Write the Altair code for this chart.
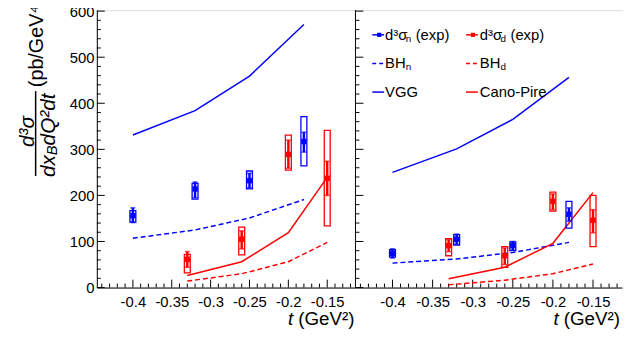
import altair as alt
import pandas as pd

# ---------------- data ----------------
t_n = [-0.40, -0.32, -0.25, -0.18]
t_d = [-0.33, -0.26, -0.20, -0.15]

# left panel
L_n_val = [156, 214, 232, 317]
L_n_slo = [141, 195, 216, 294]
L_n_shi = [173, 229, 248, 337]
L_n_ylo = [142, 192, 214, 264]
L_n_yhi = [167, 226, 253, 371]
L_d_val = [61, 105, 289, 237]
L_d_slo = [44, 84, 259, 200]
L_d_shi = [78, 123, 320, 274]
L_d_ylo = [32, 71, 255, 134]
L_d_yhi = [72, 131, 331, 341]
L_vgg = [331, 384, 459, 571]
L_bhn = [107, 125, 151, 191]
L_cano = [26, 56, 119, 239]
L_bhd = [14, 30, 56, 98]

# right panel
R_n_val = [74, 105, 91, 159]
R_n_slo = [64, 94, 81, 144]
R_n_shi = [84, 116, 100, 173]
R_n_ylo = [66, 92, 80, 129]
R_n_yhi = [82, 115, 99, 187]
R_d_val = [91, 69, 187, 146]
R_d_slo = [78, 50, 169, 119]
R_d_shi = [104, 86, 203, 169]
R_d_ylo = [69, 44, 166, 89]
R_d_yhi = [106, 89, 207, 200]
R_vgg = [250, 301, 365, 456]
R_bhn = [53, 62, 76, 98]
R_cano = [19, 44, 96, 206]
R_bhd = [6, 16, 30, 51]

x_major = [-0.4, -0.35, -0.3, -0.25, -0.2, -0.15]
x_minor = [round(-0.44 + 0.01 * i, 2) for i in range(33)]
x_minor = [v for v in x_minor if all(abs(v - m) > 1e-6 for m in x_major)]
y_major = [0, 100, 200, 300, 400, 500, 600]
y_minor = [v for v in range(0, 601, 20) if v % 100]

BLUE = "#0000ff"
RED = "#ff0000"
FONT = "Liberation Sans, Arial, sans-serif"

y_axis = alt.Axis(values=y_major, ticks=False, domain=True, domainColor="black",
                  domainWidth=1, labelFont=FONT, labelFontSize=15, labelColor="black",
                  labelPadding=3, grid=False, title=None)
y_scale = alt.Scale(domain=[0, 602.1], nice=False, zero=False)


def Yf(field):
    return alt.Y(f"{field}:Q", scale=y_scale, axis=y_axis)


def panel(rng, n_val, n_slo, n_shi, n_ylo, n_yhi, d_val, d_slo, d_shi, d_ylo, d_yhi,
          vgg, bhn, cano, bhd):
    x_axis = alt.Axis(orient="bottom", values=x_major, labelExpr="toString(datum.value)",
                      ticks=False, domain=True, domainColor="black", domainWidth=1,
                      labelFont=FONT, labelFontSize=15, labelColor="black", labelPadding=7,
                      labelFlush=False, labelOverlap=False, grid=False, title=None)
    x_scale = alt.Scale(domain=[-0.44, -0.12], range=rng, nice=False, zero=False)

    def X():
        return alt.X("t:Q", scale=x_scale, axis=x_axis)

    dn = pd.DataFrame({"t": t_n, "v": n_val, "slo": n_slo, "shi": n_shi,
                       "ylo": n_ylo, "yhi": n_yhi, "vgg": vgg, "bh": bhn})
    dd = pd.DataFrame({"t": t_d, "v": d_val, "slo": d_slo, "shi": d_shi,
                       "ylo": d_ylo, "yhi": d_yhi, "cano": cano, "bh": bhd})
    layers = []
    # ticks on the x axis (inward)
    layers.append(alt.Chart(pd.DataFrame({"t": x_major})).mark_rule(color="black", strokeWidth=1)
                  .encode(x=X(), y=alt.value(281), y2=alt.value(273)))
    layers.append(alt.Chart(pd.DataFrame({"t": x_minor})).mark_rule(color="black", strokeWidth=1)
                  .encode(x=X(), y=alt.value(281), y2=alt.value(277)))
    # theory curves
    layers.append(alt.Chart(dn).mark_line(color=BLUE, strokeWidth=1.5).encode(x=X(), y=Yf("vgg")))
    layers.append(alt.Chart(dn).mark_line(color=BLUE, strokeWidth=1.5, strokeDash=[5, 3])
                  .encode(x=X(), y=Yf("bh")))
    layers.append(alt.Chart(dd).mark_line(color=RED, strokeWidth=1.5).encode(x=X(), y=Yf("cano")))
    layers.append(alt.Chart(dd).mark_line(color=RED, strokeWidth=1.5, strokeDash=[5, 3])
                  .encode(x=X(), y=Yf("bh")))
    for df, col in ((dn, BLUE), (dd, RED)):
        # systematic boxes
        layers.append(alt.Chart(df).mark_bar(width=6, fillOpacity=0, stroke=col, strokeWidth=1.3)
                      .encode(x=X(), y=Yf("ylo"), y2="yhi:Q"))
        # statistical error bars
        layers.append(alt.Chart(df).mark_rule(color=col, strokeWidth=2.5)
                      .encode(x=X(), y=Yf("slo"), y2="shi:Q"))
        layers.append(alt.Chart(df).mark_tick(color=col, orient="horizontal", size=5, thickness=1.5)
                      .encode(x=X(), y=Yf("slo")))
        layers.append(alt.Chart(df).mark_tick(color=col, orient="horizontal", size=5, thickness=1.5)
                      .encode(x=X(), y=Yf("shi")))
        layers.append(alt.Chart(df).mark_square(color=col, size=30, opacity=1)
                      .encode(x=X(), y=Yf("v")))
    return alt.layer(*layers)


left = panel([0, 262], L_n_val, L_n_slo, L_n_shi, L_n_ylo, L_n_yhi,
             L_d_val, L_d_slo, L_d_shi, L_d_ylo, L_d_yhi, L_vgg, L_bhn, L_cano, L_bhd)
right = panel([262, 532], R_n_val, R_n_slo, R_n_shi, R_n_ylo, R_n_yhi,
              R_d_val, R_d_slo, R_d_shi, R_d_ylo, R_d_yhi, R_vgg, R_bhn, R_cano, R_bhd)

base = alt.Chart(pd.DataFrame({"_": [0]}))


def txt(s, x, y, size, color="black", italic=False, angle=0, align="left", baseline="middle"):
    kw = dict(text=s, fontSize=size, font=FONT, color=color, align=align,
              baseline=baseline, angle=angle)
    if italic:
        kw["fontStyle"] = "italic"
    return base.mark_text(**kw).encode(x=alt.value(x), y=alt.value(y))


def hline(x1, x2, y, color, dash=None):
    kw = dict(color=color, strokeWidth=1.5)
    if dash:
        kw["strokeDash"] = dash
    return base.mark_rule(**kw).encode(x=alt.value(x1), x2=alt.value(x2), y=alt.value(y))


extras = []
# y ticks (inward) on both panels
for x0 in (0, 262):
    extras.append(alt.Chart(pd.DataFrame({"v": y_major})).mark_rule(color="black", strokeWidth=1)
                  .encode(y=Yf("v"), x=alt.value(x0), x2=alt.value(x0 + 8)))
    extras.append(alt.Chart(pd.DataFrame({"v": y_minor})).mark_rule(color="black", strokeWidth=1)
                  .encode(y=Yf("v"), x=alt.value(x0), x2=alt.value(x0 + 4)))
# separator between panels
extras.append(base.mark_rule(color="black", strokeWidth=1)
              .encode(x=alt.value(262), y=alt.value(0), y2=alt.value(281)))

# y title (fraction)
extras.append(txt("d³σ", -70, 123, 21, italic=True, angle=270, align="center"))
extras.append(base.mark_rule(color="black", strokeWidth=1.5)
              .encode(x=alt.value(-62), y=alt.value(82), y2=alt.value(168)))
extras.append(txt("dx", -48, 169, 21, italic=True, angle=270))
extras.append(txt("B", -45, 147, 15, italic=True, angle=270))
extras.append(txt("dQ²dt", -48, 137, 21, italic=True, angle=270))
extras.append(txt("(pb/GeV⁴)", -61, 78, 20, angle=270))

# x titles
for xr in (261, 530):
    extras.append(txt("(GeV²)", xr, 313, 19, align="right"))
    extras.append(txt("t", xr - 62, 313, 19, italic=True, align="right"))

# legend
rows = [25, 54, 83]
c1s, c1e, c1t = 279, 291, 292
c2s, c2e, c2t = 374, 386, 388
# row 1
extras.append(hline(c1s, c1e, rows[0], BLUE))
extras.append(base.mark_square(color=BLUE, size=18, opacity=1).encode(x=alt.value(286), y=alt.value(rows[0])))
extras.append(txt("d³σ", c1t, rows[0], 15))
extras.append(txt("n", c1t + 21, rows[0] + 4, 10))
extras.append(txt("(exp)", 323, rows[0], 15))
extras.append(hline(c2s, c2e, rows[0], RED))
extras.append(base.mark_square(color=RED, size=18, opacity=1).encode(x=alt.value(381), y=alt.value(rows[0])))
extras.append(txt("d³σ", c2t, rows[0], 15))
extras.append(txt("d", c2t + 21, rows[0] + 4, 10))
extras.append(txt("(exp)", 419, rows[0], 15))
# row 2
extras.append(hline(c1s, c1e, rows[1], BLUE, [4, 3]))
extras.append(txt("BH", c1t, rows[1], 15))
extras.append(txt("n", c1t + 21, rows[1] + 4, 10))
extras.append(hline(c2s, c2e, rows[1], RED, [4, 3]))
extras.append(txt("BH", c2t, rows[1], 15))
extras.append(txt("d", c2t + 21, rows[1] + 4, 10))
# row 3
extras.append(hline(c1s, c1e, rows[2], BLUE))
extras.append(txt("VGG", c1t, rows[2], 15))
extras.append(hline(c2s, c2e, rows[2], RED))
extras.append(txt("Cano-Pire", c2t, rows[2], 15))

chart = (
    alt.layer(left, right, *extras)
    .resolve_scale(x="independent")
    .properties(width=533, height=281,
                padding={"left": 90, "top": 0, "right": 0, "bottom": 54},
                autosize=alt.AutoSizeParams(type="none"))
    .configure_view(stroke=None)
    .configure(background="white")
)

chart.save("out.html", embed_options={"renderer": "svg", "actions": False})
